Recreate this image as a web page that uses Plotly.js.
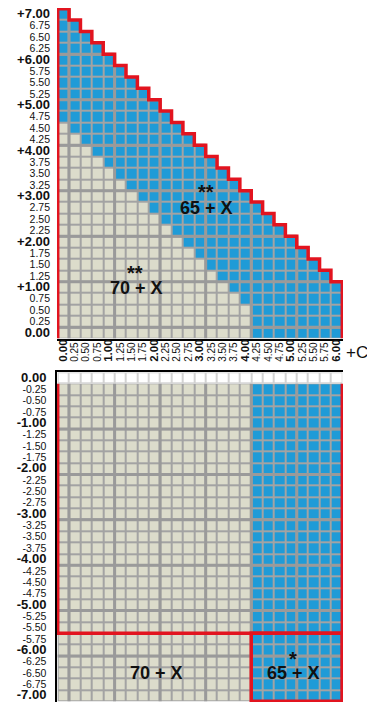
<!DOCTYPE html>
<html>
<head>
<meta charset="utf-8">
<script src="https://cdn.plot.ly/plotly-3.0.1.min.js"></script>
<style>html,body{margin:0;padding:0;background:#fff;}#chart{width:367px;height:703px;}</style>
</head>
<body>
<div id="chart"></div>
<script>
// ---- data ----
const xCols = [0.00,0.25,0.50,0.75,1.00,1.25,1.50,1.75,2.00,2.25,2.50,2.75,3.00,3.25,3.50,3.75,4.00,4.25,4.50,4.75,5.00,5.25,5.50,5.75,6.00];
const xLabels = ['0.00','0.25','0.50','0.75','1.00','1.25','1.50','1.75','2.00','2.25','2.50','2.75','3.00','3.25','3.50','3.75','4.00','4.25','4.50','4.75','5.00','5.25','5.50','5.75','6.00'];

const topRows = [7.00,6.75,6.50,6.25,6.00,5.75,5.50,5.25,5.00,4.75,4.50,4.25,4.00,3.75,3.50,3.25,3.00,2.75,2.50,2.25,2.00,1.75,1.50,1.25,1.00,0.75,0.50,0.25,0.00];
const topYLabels = ['+7.00','6.75','6.50','6.25','+6.00','5.75','5.50','5.25','+5.00','4.75','4.50','4.25','+4.00','3.75','3.50','3.25','+3.00','2.75','2.50','2.25','+2.00','1.75','1.50','1.25','+1.00','0.75','0.50','0.25','0.00'];
// last column inside the red outline, per row
const topMaxX = [0.00,0.25,0.50,0.75,1.00,1.25,1.50,1.75,2.00,2.25,2.50,2.75,3.00,3.25,3.50,3.75,4.00,4.25,4.50,4.75,5.00,5.25,5.50,5.75,6.00,6.00,6.00,6.00,6.00];
// last beige column, per row (null = no beige)
const topBeigeMaxX = [null,null,null,null,null,null,null,null,null,null,0.00,0.25,0.50,0.75,1.00,1.25,1.50,1.75,2.00,2.25,2.50,2.75,3.00,3.25,3.50,3.75,4.00,4.00,4.00];

const botRows = [0.00,-0.25,-0.50,-0.75,-1.00,-1.25,-1.50,-1.75,-2.00,-2.25,-2.50,-2.75,-3.00,-3.25,-3.50,-3.75,-4.00,-4.25,-4.50,-4.75,-5.00,-5.25,-5.50,-5.75,-6.00,-6.25,-6.50,-6.75,-7.00];
const botYLabels = ['0.00','-0.25','-0.50','-0.75','-1.00','-1.25','-1.50','-1.75','-2.00','-2.25','-2.50','-2.75','-3.00','-3.25','-3.50','-3.75','-4.00','-4.25','-4.50','-4.75','-5.00','-5.25','-5.50','-5.75','-6.00','-6.25','-6.50','-6.75','-7.00'];
const botWhiteRow = 0.00;
const botBeigeMaxX = 4.00;
const botRedSplitRow = -5.50;

const noteTexts = ['**','65 + X','**','70 + X','70 + X','*','65 + X'];
const sideLabel = '+C';

// ---- styles ----
const BEIGE = '#dcdccb', BLUE = '#1f9bd7', GRID = '#a3a3a3', THICK = '#9a9a9a', RED = '#e2141f';
const H = 0.125;
const M = {l:57, r:24, t:8, b:1};
const W = 367 - M.l - M.r, HT = 703 - M.t - M.b;
const px2x = p => (p - M.l) / W;
const px2y = p => (703 - M.b - p) / HT;

const isInt = v => Math.abs(v - Math.round(v)) < 1e-9;
const yText = (lab, v) => isInt(v) ? '<b><span style="font-size:13px">' + lab + '</span></b>' : lab;
const xText = (lab, v) => isInt(v) ? '<b><span style="font-size:11.5px">' + lab + '</span></b>' : lab;

// ---- z matrices ----
const topZ = topRows.map((y, i) => xCols.map(x =>
  x > topMaxX[i] ? null : (topBeigeMaxX[i] !== null && x <= topBeigeMaxX[i] ? 1 : 2)));
const botZ = botRows.map(y => xCols.map(x =>
  y === botWhiteRow ? 0 : (x <= botBeigeMaxX ? 1 : 2)));

const cs = [[0,'#ffffff'],[0.33,'#ffffff'],[0.33,BEIGE],[0.67,BEIGE],[0.67,BLUE],[1,BLUE]];

const traces = [
  {type:'heatmap', x:xCols, y:topRows, z:topZ, xaxis:'x', yaxis:'y', colorscale:cs, zmin:0, zmax:2,
   showscale:false, xgap:2, ygap:2, hoverinfo:'skip'},
  {type:'heatmap', x:xCols, y:botRows, z:botZ, xaxis:'x2', yaxis:'y2', colorscale:cs, zmin:0, zmax:2,
   showscale:false, xgap:2, ygap:2, hoverinfo:'skip'}
];

// ---- shapes built from the data ----
const xMin = xCols[0] - H, xMax = xCols[xCols.length-1] + H;
let stair = 'M' + xMin + ',' + (topRows[topRows.length-1] - H) + ' L' + xMin + ',' + (topRows[0] + H);
topRows.forEach((y, i) => {
  stair += ' L' + (topMaxX[i] + H) + ',' + (y + H) + ' L' + (topMaxX[i] + H) + ',' + (y - H);
});
const shapes = [];
shapes.push({type:'path', xref:'x', yref:'y', path: stair + ' Z', fillcolor:GRID, line:{width:0}, layer:'below'});
const botTop = botRows[0], botBot = botRows[botRows.length-1];
shapes.push({type:'rect', xref:'x2', yref:'y2', x0:xMin, x1:xMax, y0:botBot - H, y1:botTop - H, fillcolor:GRID, line:{width:0}, layer:'below'});
shapes.push({type:'rect', xref:'x2', yref:'y2', x0:xMin, x1:xMax, y0:botTop - H, y1:botTop + H, fillcolor:'#d2d2d2', line:{width:0}, layer:'below'});

// thick grid lines (every 1.00)
xCols.forEach(x => {
  if (!isInt(x) || x === xCols[xCols.length-1]) return;
  let yTop = -Infinity;
  topRows.forEach((y, i) => { if (topMaxX[i] >= x && y > yTop) yTop = y; });
  shapes.push({type:'line', xref:'x', yref:'y', x0:x + H, x1:x + H, y0:topRows[topRows.length-1] - H, y1:yTop + H,
    line:{color:THICK, width:3}, layer:'above'});
  shapes.push({type:'line', xref:'x2', yref:'y2', x0:x + H, x1:x + H, y0:botBot - H, y1:botTop - H,
    line:{color:THICK, width:3}, layer:'above'});
});
topRows.forEach((y, i) => {
  if (!isInt(y) || i === 0) return;
  shapes.push({type:'line', xref:'x', yref:'y', x0:xMin, x1:topMaxX[i] + H, y0:y + H, y1:y + H,
    line:{color:THICK, width:3}, layer:'above'});
});
botRows.forEach((y, i) => {
  if (!isInt(y) || y === botWhiteRow || i === botRows.length-1) return;
  shapes.push({type:'line', xref:'x2', yref:'y2', x0:xMin, x1:xMax, y0:y - H, y1:y - H,
    line:{color:THICK, width:3}, layer:'above'});
});

// red outlines
shapes.push({type:'path', xref:'x', yref:'y', path: stair, line:{color:RED, width:3.5}, layer:'above'});
shapes.push({type:'path', xref:'x2', yref:'y2',
  path:'M' + xMin + ',' + (botTop - H) + ' L' + xMin + ',' + (botRedSplitRow - H) + ' L' + xMax + ',' + (botRedSplitRow - H),
  line:{color:RED, width:3.5}, layer:'above'});
shapes.push({type:'line', xref:'x2', yref:'y2', x0:xMax, x1:xMax, y0:botTop - H, y1:botBot - H,
  line:{color:RED, width:3.5}, layer:'above'});
shapes.push({type:'rect', xref:'x2', yref:'y2', x0:botBeigeMaxX + H, x1:xMax, y0:botRedSplitRow - H, y1:botBot - H,
  line:{color:RED, width:3.5}, fillcolor:'rgba(0,0,0,0)', layer:'above'});

// ---- annotations ----
const notePos = [[206,192,20],[206,208,18],[135,273,20],[136,288,18],[156,673,18],[293,659,20],[293,673,18]];
const annotations = noteTexts.map((t, i) => ({
  text:'<b>' + t + '</b>', xref:'paper', yref:'paper', x:px2x(notePos[i][0]), y:px2y(notePos[i][1]),
  xanchor:'center', yanchor:'middle', showarrow:false,
  font:{family:'Liberation Sans, Arial, sans-serif', size:notePos[i][2], color:'#111'}
}));
annotations.push({text:sideLabel, xref:'paper', yref:'paper', x:px2x(344), y:px2y(353), xanchor:'left', yanchor:'middle',
  showarrow:false, font:{family:'Liberation Sans, Arial, sans-serif', size:17, color:'#111'}});

const tickFont = {family:'Liberation Sans Narrow, Arial Narrow, sans-serif', size:10.5, color:'#111'};
const axX = {range:[-0.14, 6.14], showgrid:false, zeroline:false, fixedrange:true};

const layout = {
  width:367, height:703, margin:M, paper_bgcolor:'#ffffff', plot_bgcolor:'#ffffff', showlegend:false,
  xaxis: Object.assign({}, axX, {domain:[0,1], anchor:'y', showticklabels:false, showline:true, linecolor:'#000', linewidth:2.5, ticks:''}),
  yaxis: {domain:[px2y(338.6), 1], anchor:'x', range:[-0.125, 7.14], showgrid:false, zeroline:false, showline:false,
    tickmode:'array', tickvals:topRows, ticktext:topYLabels.map((l, i) => yText(l, topRows[i])), ticks:'', ticklabelstandoff:6, tickfont:tickFont},
  xaxis2: Object.assign({}, axX, {domain:[0,1], anchor:'y2', side:'top', showline:true, linecolor:'#000', linewidth:2.5, ticks:'',
    tickmode:'array', tickvals:xCols, ticktext:xLabels.map((l, i) => xText(l, xCols[i])), tickangle:-90, ticklabelstandoff:6,
    tickfont:{family:'Liberation Sans Narrow, Arial Narrow, sans-serif', size:10, color:'#111'}}),
  yaxis2: {domain:[0, px2y(372.3)], anchor:'x2', range:[-7.14, 0.125], showgrid:false, zeroline:false, showline:true, linecolor:'#000', linewidth:2.5,
    tickmode:'array', tickvals:botRows, ticktext:botYLabels.map((l, i) => yText(l, botRows[i])), ticks:'', ticklabelstandoff:6, tickfont:tickFont},
  shapes: shapes,
  annotations: annotations
};

Plotly.newPlot('chart', traces, layout, {staticPlot:true, displayModeBar:false});
</script>
</body>
</html>
